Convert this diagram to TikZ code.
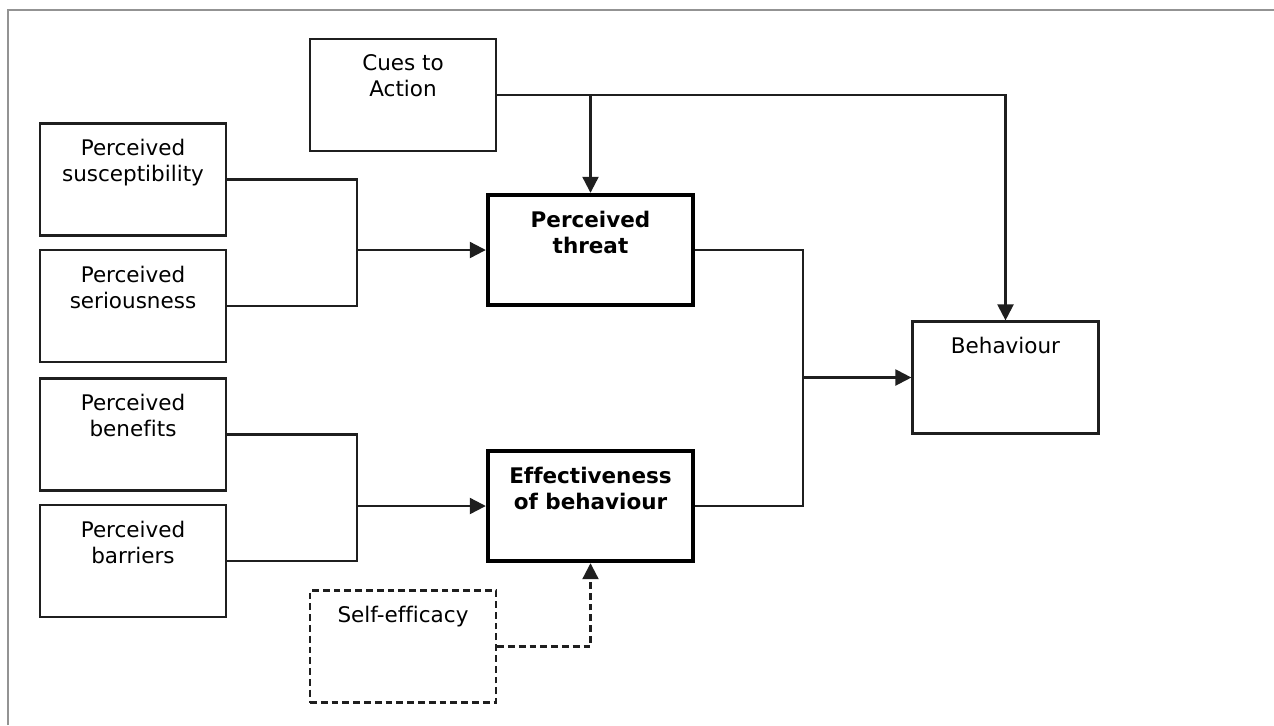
\documentclass[tikz,border=0pt]{standalone}
\usepackage{fontspec}
\setmainfont[Ligatures=NoCommon]{DejaVu Sans}
\usetikzlibrary{arrows.meta}

% box content: fixed height and width, text set from the top
\newcommand\topbox[3]{\parbox[c][#1][t]{#2}{\centering\vspace{8pt}#3\par}}

\begin{document}
\begin{tikzpicture}[x=0.5pt, y=-0.5pt,
  lbl/.style={inner sep=0pt, font=\fontsize{10.75}{13}\selectfont},
  plainbox/.style={lbl, draw=black!88, line width=1.1pt},
  keybox/.style={lbl, draw=black, line width=1.9pt},
  dashbox/.style={lbl, draw=black!88, line width=1.1pt, dash pattern=on 3.4pt off 2pt},
  link/.style={draw=black!88, line width=1.1pt},
  arr/.style={link, -{Triangle[length=8pt,width=8pt]}},
  dasharr/.style={arr, dash pattern=on 3.4pt off 2pt}
]
\useasboundingbox (0,0) rectangle (1274,725);

% outer frame
\draw[gray!85, line width=1.1pt] (8,725) -- (8,10) -- (1274,10);

% factor boxes
\node[plainbox] (cues) at (403,95)    {\topbox{56pt}{93pt}{Cues to\\Action}};
\node[plainbox] (sus)  at (133,179.5) {\topbox{56pt}{93pt}{Perceived\\susceptibility}};
\node[plainbox] (ser)  at (133,306)   {\topbox{56pt}{93pt}{Perceived\\seriousness}};
\node[plainbox] (ben)  at (133,434.5) {\topbox{56pt}{93pt}{Perceived\\benefits}};
\node[plainbox] (bar)  at (133,561)   {\topbox{56pt}{93pt}{Perceived\\barriers}};
\node[keybox]   (thr)  at (590.5,250) {\topbox{55.3pt}{102.8pt}{\bfseries Perceived\\threat}};
\node[keybox]   (eff)  at (590.5,506) {\topbox{55.3pt}{102.8pt}{\bfseries Effectiveness\\of behaviour}};
\node[plainbox] (beh)  at (1005.5,377.5) {\topbox{56pt}{93pt}{Behaviour}};
\node[dashbox]  (self) at (403,646.5) {\topbox{56pt}{93pt}{Self-efficacy}};

% junction points
\coordinate (jA) at (357,0);
\coordinate (jB) at (803,0);

% susceptibility + seriousness -> threat
\draw[link] (sus.east) -- (sus.east -| jA) -- (ser.east -| jA) -- (ser.east);
\draw[arr] (thr.west -| jA) -- (thr.west);

% benefits + barriers -> effectiveness
\draw[link] (ben.east) -- (ben.east -| jA) -- (bar.east -| jA) -- (bar.east);
\draw[arr] (eff.west -| jA) -- (eff.west);

% threat + effectiveness -> behaviour
\draw[link] (thr.east) -- (thr.east -| jB) -- (eff.east -| jB) -- (eff.east);
\draw[arr] (beh.west -| jB) -- (beh.west);

% cues to action
\draw[arr] (cues.east) -- (cues.east -| beh.north) -- (beh.north);
\draw[arr] (cues.east -| thr.north) -- (thr.north);

% self-efficacy
\draw[dasharr] (self.east) -- (self.east -| eff.south) -- (eff.south);
\end{tikzpicture}
\end{document}
